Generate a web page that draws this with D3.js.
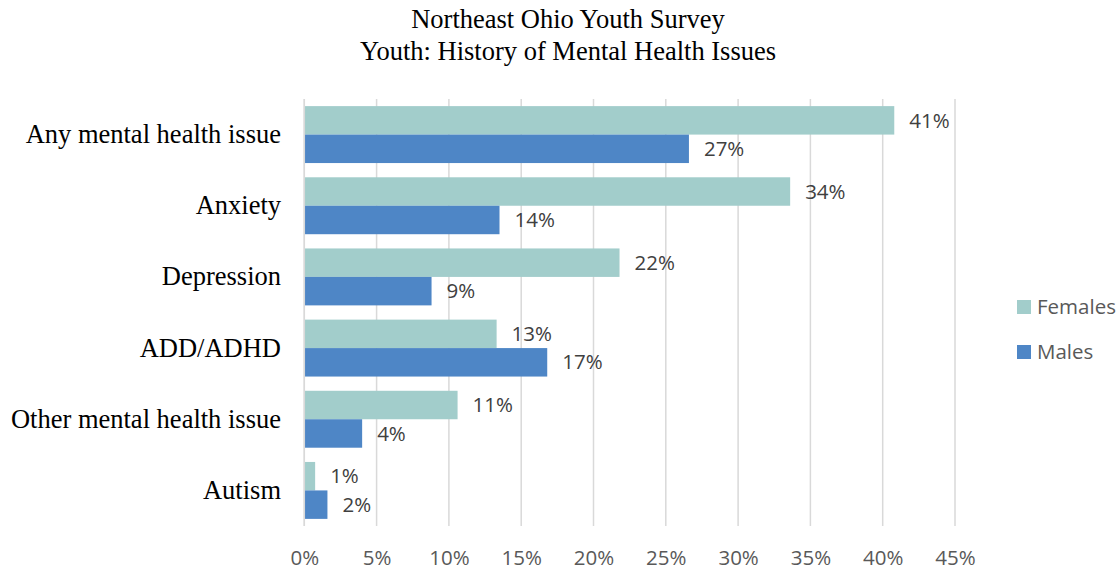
<!DOCTYPE html>
<html><head><meta charset="utf-8">
<script src="https://cdn.jsdelivr.net/npm/d3@7"></script>
<style>body{margin:0;background:#fff}</style>
</head><body>
<svg id="c" width="1120" height="570"></svg>
<script>
const categories = ["Any mental health issue","Anxiety","Depression","ADD/ADHD","Other mental health issue","Autism"];
const seriesNames = ["Females","Males"];
const females = [40.8, 33.6, 21.8, 13.3, 10.6, 0.75];
const males = [26.6, 13.5, 8.8, 16.8, 4.0, 1.6];
const femaleLabels = ["41%","34%","22%","13%","11%","1%"];
const maleLabels = ["27%","14%","9%","17%","4%","2%"];
const ticks = [0,5,10,15,20,25,30,35,40,45];
const titleLines = ["Northeast Ohio Youth Survey","Youth: History of Mental Health Issues"];
const colors = {Females:"#A2CDCB", Males:"#4E86C6"};

const svg = d3.select("#c");
const x = d3.scaleLinear().domain([0,45]).range([304.3,955]);
const y = d3.scaleBand().domain(categories).range([99,526]).paddingInner(0.2).paddingOuter(0.1);
const sub = d3.scaleBand().domain(seriesNames).range([0,y.bandwidth()]);

// title
svg.append("g").selectAll("text").data(titleLines).join("text")
  .attr("x",568).attr("y",(d,i)=>28+i*32).attr("text-anchor","middle")
  .attr("font-family","'Liberation Serif','Times New Roman',serif").attr("font-size",26.5).attr("fill","#000").text(d=>d);

// grid
svg.append("g").selectAll("line").data(ticks).join("line")
  .attr("x1",d=>x(d)).attr("x2",d=>x(d)).attr("y1",99).attr("y2",526)
  .attr("stroke","#D9D9D9").attr("stroke-width",1.5);

// tick labels
const xAxis = d3.axisBottom(x).tickValues(ticks).tickFormat(d=>d+"%").tickSize(0).tickPadding(0);
const ax = svg.append("g").attr("transform","translate(0,565)").call(xAxis);
ax.select(".domain").remove();
ax.selectAll("text").attr("y",0).attr("dy",0).attr("font-family","'Open Sans',sans-serif").attr("font-size",20.5).attr("fill","#595959");

// category labels
const yAxis = d3.axisLeft(y).tickSize(0).tickPadding(0);
const ay = svg.append("g").attr("transform","translate(281,0)").call(yAxis);
ay.select(".domain").remove();
ay.selectAll("text").attr("font-family","'Liberation Serif','Times New Roman',serif").attr("font-size",26.5).attr("fill","#000").attr("dy","0.32em");

const data = [];
categories.forEach((c,i)=>{
  data.push({cat:c,s:"Females",v:females[i],lab:femaleLabels[i]});
  data.push({cat:c,s:"Males",v:males[i],lab:maleLabels[i]});
});

svg.append("g").selectAll("rect").data(data).join("rect")
  .attr("x",x(0)).attr("y",d=>y(d.cat)+sub(d.s)).attr("width",d=>x(d.v)-x(0)).attr("height",sub.bandwidth())
  .attr("fill",d=>colors[d.s]);

svg.append("g").selectAll("text").data(data).join("text")
  .attr("x",d=>x(d.v)+15).attr("y",d=>y(d.cat)+sub(d.s)+sub.bandwidth()/2).attr("dy","0.35em")
  .attr("font-family","'Open Sans',sans-serif").attr("font-size",20.5).attr("fill","#404040").text(d=>d.lab);

// axis line at 0
svg.append("line").attr("x1",x(0)).attr("x2",x(0)).attr("y1",99).attr("y2",526).attr("stroke","#D9D9D9").attr("stroke-width",1.5);

// legend
const lg = svg.append("g").selectAll("g").data(seriesNames).join("g")
  .attr("transform",(d,i)=>`translate(1017,${300+i*45})`);
lg.append("rect").attr("width",14).attr("height",14).attr("fill",d=>colors[d]);
lg.append("text").attr("x",20).attr("y",7).attr("dy","0.35em").attr("font-family","'Open Sans',sans-serif").attr("font-size",20.5).attr("fill","#595959").text(d=>d);
</script>
</body></html>
